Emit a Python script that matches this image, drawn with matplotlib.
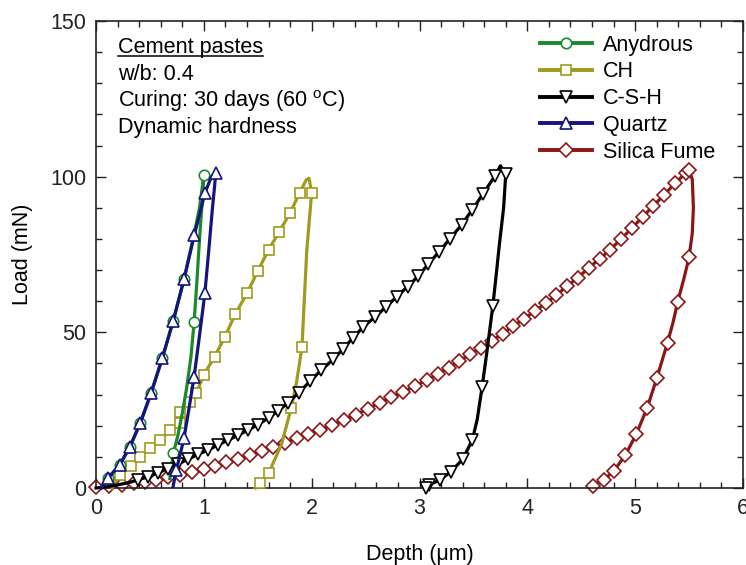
import matplotlib
matplotlib.use("Agg")
import matplotlib.pyplot as plt
from matplotlib.ticker import MultipleLocator
from matplotlib.lines import Line2D

plt.rcParams['font.family'] = ['Liberation Sans', 'DejaVu Sans']
plt.rcParams['mathtext.fontset'] = 'custom'
plt.rcParams['mathtext.rm'] = 'Liberation Sans'

# ---------------- data ----------------
labels = ["Anydrous", "CH", "C-S-H", "Quartz", "Silica Fume"]

anh_depth = [0.05, 0.11, 0.22, 0.315, 0.41, 0.51, 0.615, 0.717, 0.816, 0.90, 0.96, 1.0,
             0.985, 0.96, 0.935, 0.91, 0.88, 0.84, 0.80, 0.76, 0.717, 0.70, 0.685]
anh_load = [0, 3.1, 7.4, 13.3, 20.8, 30.4, 41.7, 53.8, 67.0, 80, 90, 100.5,
            92, 80, 66, 53.4, 42, 32, 24, 17, 11.1, 7, 3]
anh_marks = [1, 2, 3, 4, 5, 6, 7, 8, 11, 15, 20]

ch_depth = [0.15, 0.22, 0.32, 0.41, 0.50, 0.594, 0.687, 0.78, 0.78, 0.87, 0.93, 1.0, 1.1,
            1.197, 1.29, 1.4, 1.5, 1.6, 1.7, 1.8, 1.89, 1.95, 1.975, 2.0,
            1.955, 1.91, 1.86, 1.81, 1.72, 1.60, 1.52, 1.48]
ch_load = [0, 4.2, 7.0, 10.0, 12.7, 15.4, 18.5, 21.0, 24.5, 27.5, 30.4, 36.4, 42.2,
           48.6, 55.8, 62.5, 69.7, 76.5, 82.3, 88.4, 94.9, 99, 99.5, 94.9,
           76.5, 45.2, 34, 25.6, 14, 4.7, 1.7, 0]
ch_marks = [1, 2, 3, 4, 5, 6, 7, 8, 9, 10, 11, 12, 13, 14, 15, 16, 17, 18, 19, 20, 23,
            25, 27, 29, 30]

csh_depth = [0.0, 0.1, 0.2, 0.3, 0.39, 0.48, 0.575, 0.668, 0.76, 0.853, 0.946, 1.04, 1.13,
             1.22, 1.32, 1.41, 1.50, 1.60, 1.69, 1.78, 1.88, 1.985, 2.09, 2.2, 2.29,
             2.38, 2.48, 2.59, 2.69, 2.79, 2.89, 2.99, 3.08, 3.18, 3.28, 3.39, 3.485,
             3.59, 3.70, 3.75, 3.80, 3.78, 3.74, 3.71, 3.68, 3.63, 3.58, 3.535, 3.49,
             3.40, 3.29, 3.19, 3.09, 3.06]
csh_load = [0, 0.4, 1.0, 1.7, 2.6, 3.6, 4.9, 6.2, 7.7, 9.2, 10.8, 12.2, 13.8,
            15.3, 17.0, 18.6, 20.3, 22.5, 24.8, 27.4, 30.6, 34.3, 37.9, 41.3, 44.6,
            48.1, 51.8, 55.0, 58.2, 61.5, 64.7, 68.1, 71.9, 75.8, 80.0, 84.5, 89.2,
            94.5, 100.3, 103.5, 100.8, 90, 78, 68, 58.5, 45, 32.3, 22, 15.4,
            9.2, 5.2, 2.6, 1.0, 0]
csh_marks = list(range(4, 39)) + [40, 44, 46, 48, 49, 50, 51, 52, 53]

qtz_depth = [0.05, 0.11, 0.22, 0.315, 0.41, 0.51, 0.615, 0.717, 0.816, 0.912, 1.01, 1.07,
             1.11, 1.10, 1.08, 1.05, 1.01, 0.96, 0.91, 0.86, 0.816, 0.775, 0.745, 0.715]
qtz_load = [0, 3.1, 7.4, 13.3, 20.8, 30.4, 41.7, 53.8, 67.0, 81.3, 94.7, 100,
            101.3, 97, 90, 78, 62.7, 49, 35.8, 25, 16, 10, 5.8, 0.5]
qtz_marks = [1, 2, 3, 4, 5, 6, 7, 8, 9, 10, 12, 16, 18, 20, 22]

sf_depth = [0.0, 0.12, 0.24, 0.35, 0.455, 0.56, 0.67, 0.78, 0.89, 1.0, 1.10, 1.21, 1.32,
            1.43, 1.54, 1.645, 1.75, 1.86, 1.97, 2.08, 2.19, 2.30, 2.41, 2.52, 2.63,
            2.74, 2.85, 2.96, 3.07, 3.17, 3.27, 3.37, 3.47, 3.57, 3.67, 3.77, 3.87,
            3.97, 4.07, 4.17, 4.27, 4.37, 4.47, 4.57, 4.67, 4.77, 4.87, 4.97, 5.07,
            5.17, 5.27, 5.37, 5.47,
            5.50, 5.53, 5.54, 5.53, 5.50, 5.45, 5.395, 5.35, 5.30, 5.20, 5.11, 5.01,
            4.91, 4.805, 4.71, 4.61]
sf_load = [0.3, 0.5, 1.0, 1.5, 2.0, 2.6, 3.4, 4.2, 5.1, 6.0, 7.1, 8.3, 9.4,
           10.6, 11.8, 13.1, 14.5, 15.9, 17.3, 18.7, 20.2, 21.9, 23.6, 25.5, 27.3,
           29.1, 30.9, 32.8, 34.7, 36.6, 38.6, 40.8, 43.0, 45.0, 47.2, 49.6, 52.0,
           54.4, 56.8, 59.3, 62.0, 64.9, 67.6, 70.7, 73.6, 76.6, 80.0, 83.5, 87.1,
           90.7, 94.2, 97.9, 101.2,
           102.3, 99, 90, 82, 74.1, 67, 59.9, 53, 46.7, 35.2, 25.6, 17.3,
           10.6, 5.6, 2.6, 0.8]
sf_marks = list(range(0, 53)) + [53, 57, 59, 61, 62, 63, 64, 65, 66, 67, 68]

colors = ["#1c8a2a", "#a09a1e", "#000000", "#14147e", "#8c1616"]
markers = ["o", "s", "v", "^", "D"]
msizes = [7.5, 7.5, 8.5, 8.5, 7.2]

xticks = [0, 1, 2, 3, 4, 5, 6]
yticks = [0, 50, 100, 150]

# ---------------- figure ----------------
fig = plt.figure(figsize=(7.46, 5.65), dpi=100)
ax = fig.add_axes([96 / 746, 77 / 565, 647 / 746, 467 / 565])

series = [
    (anh_depth, anh_load, anh_marks, 4),
    (ch_depth, ch_load, ch_marks, 3),
    (csh_depth, csh_load, csh_marks, 5),
    (qtz_depth, qtz_load, qtz_marks, 6),
    (sf_depth, sf_load, sf_marks, 2),
]
handles = []
for (d, l, mk, z), c, m, ms, lab in zip(series, colors, markers, msizes, labels):
    ax.plot(d, l, color=c, lw=2.3, marker=m, ms=ms, mfc="white", mec=c, mew=1.2,
            markevery=mk, zorder=z, clip_on=False)
    handles.append(Line2D([], [], color=c, lw=2.8, marker=m, ms=ms, mfc="white",
                          mec=c, mew=1.2, label=lab))

ax.set_xlim(0, 6)
ax.set_ylim(0, 150)
ax.set_xticks(xticks)
ax.set_yticks(yticks)
ax.xaxis.set_minor_locator(MultipleLocator(0.2))
ax.yaxis.set_minor_locator(MultipleLocator(10))
ax.tick_params(which="both", direction="in", top=True, right=True, labelsize=15.5,
               pad=7, colors="#222222")
ax.tick_params(which="major", length=7, width=1.0)
ax.tick_params(which="minor", length=4, width=1.0)
for s in ax.spines.values():
    s.set_linewidth(1.2)
    s.set_color("#222222")

ax.set_xlabel("Depth (\u03bcm)", fontsize=15.5, labelpad=18)
ax.set_ylabel("Load (mN)", fontsize=15.5, labelpad=12)

leg = ax.legend(handles=handles, loc="upper left", bbox_to_anchor=(0.686, 0.971),
                frameon=False, fontsize=15.5, handlelength=2.4, handletextpad=0.55,
                labelspacing=0.27, borderpad=0, borderaxespad=0)

# text block
tx = (118 - 96) / 647
fs_txt = 15.6
t1 = ax.text(tx, (488 - 47) / 467, "Cement pastes", transform=ax.transAxes,
             fontsize=fs_txt, va="center", ha="left")
ax.text(tx, (488 - 75) / 467, "w/b: 0.4", transform=ax.transAxes,
        fontsize=fs_txt, va="center", ha="left")
ax.text(tx, (488 - 101) / 467, "Curing: 30 days (60 $^{\\mathrm{o}}$C)",
        transform=ax.transAxes, fontsize=fs_txt, va="center", ha="left")
ax.text(tx, (488 - 127) / 467, "Dynamic hardness", transform=ax.transAxes,
        fontsize=fs_txt, va="center", ha="left")

fig.canvas.draw()
bb = t1.get_window_extent().transformed(ax.transAxes.inverted())
uy = bb.y0 + 0.003
ax.plot([bb.x0, bb.x1], [uy, uy], transform=ax.transAxes, color="black", lw=1.1,
        clip_on=False)

fig.savefig("out.png", dpi=100)
